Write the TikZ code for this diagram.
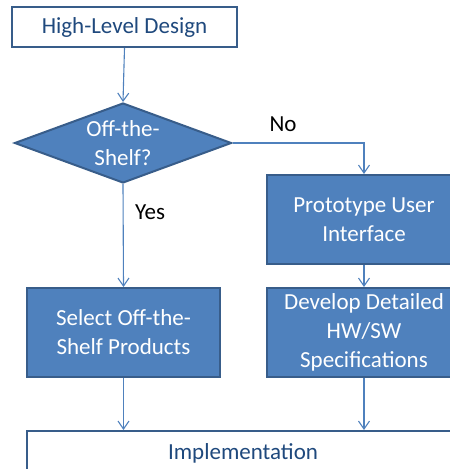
\documentclass[tikz,border=0pt]{standalone}
\usepackage{fontspec}
\setmainfont{Carlito}
\usetikzlibrary{shapes.geometric,arrows.meta}
\definecolor{accent}{HTML}{4F81BD}
\definecolor{edge}{HTML}{385D8A}
\definecolor{darktext}{HTML}{1F497D}
\tikzset{
  flowtext/.style={font=\fontsize{23}{29}\selectfont, align=center, inner sep=0pt},
  whitebox/.style={flowtext, rectangle, draw=edge, line width=2pt, fill=white, text=darktext},
  bluebox/.style={flowtext, rectangle, draw=edge, line width=2pt, fill=accent, text=white},
  decision/.style={flowtext, diamond, aspect=2.7, draw=edge, line width=2pt, fill=accent, text=white, minimum width=217pt, minimum height=80pt},
  conn/.style={draw=accent, line width=1.1pt, -{Straight Barb[length=8pt,width=11pt,line width=1.1pt]}},
  lbl/.style={font=\fontsize{23}{29}\selectfont, text=black, inner sep=0pt}
}
\begin{document}
\begin{tikzpicture}[x=1pt,y=-1pt]
\useasboundingbox (0,0) rectangle (450,469);
\clip (0,0) rectangle (450,469);
\node[whitebox, minimum width=225pt, minimum height=40pt] (hld) at (124.5,27) {High-Level Design};
\node[decision] (dec) at (123,143) {Off-the-\\Shelf?};
\node[bluebox, minimum width=194pt, minimum height=89pt] (proto) at (364,219.5) {Prototype User\\Interface};
\node[bluebox, minimum width=194pt, minimum height=89pt] (dev) at (364,332.5) {Develop Detailed\\HW/SW\\Specifications};
\node[bluebox, minimum width=193pt, minimum height=89pt] (sel) at (123.5,332.5) {Select Off-the-\\Shelf Products};
\node[whitebox, minimum width=432pt, minimum height=44pt] (impl) at (243,453) {Implementation};
\node[lbl] (no) at (283,124) {No};
\node[lbl] (yes) at (150,212) {Yes};
\draw[conn] (hld.south) -- (dec.north);
\draw[conn] (dec.east) -| (proto.north);
\draw[conn] (dec.south) -- (sel.north);
\draw[conn] (proto.south) -- (dev.north);
\draw[conn] (sel.south) -- (sel.south |- impl.north);
\draw[conn] (dev.south) -- (dev.south |- impl.north);
\end{tikzpicture}
\end{document}
